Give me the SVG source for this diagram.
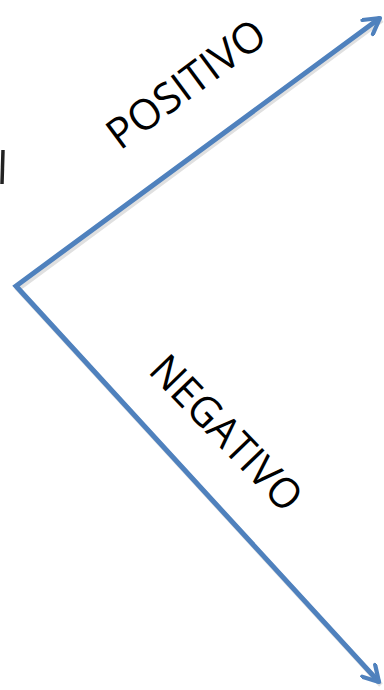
<svg xmlns="http://www.w3.org/2000/svg" width="384" height="690" viewBox="0 0 384 690">
<style>
.conn{fill:none;stroke:#4F81BD;stroke-width:5;stroke-linejoin:miter}
.shadow{fill:none;stroke:#000;stroke-opacity:0.12;stroke-width:5}
.lbl{font-family:"Open Sans","Liberation Sans",sans-serif;font-size:42px;fill:#000}
</style>
<defs>
<marker id="arr" viewBox="0 0 10 10" refX="8.5" refY="5" markerWidth="4.2" markerHeight="4.2" orient="auto-start-reverse" markerUnits="strokeWidth">
<path d="M1.2,0.8 L8.5,5 L1.2,9.2" fill="none" stroke="#4F81BD" stroke-width="2" stroke-linecap="round" stroke-linejoin="round"/>
</marker>
</defs>
<rect width="384" height="690" fill="#fff"/>
<g id="mark"><path d="M3,150 L2,184" stroke="#222" stroke-width="3.5" fill="none"/></g>
<g id="connectors">
<polyline class="shadow" points="382,20 18,289 381,685"/>
<polyline class="conn" points="380,18 16,286 379,682" marker-start="url(#arr)" marker-end="url(#arr)"/>
</g>
<g id="positivo"><text class="lbl" transform="translate(120,151) rotate(-36.5)" textLength="186" lengthAdjust="spacingAndGlyphs">POSITIVO</text></g>
<g id="negativo"><text class="lbl" transform="translate(147,372) rotate(46)" textLength="198" lengthAdjust="spacingAndGlyphs">NEGATIVO</text></g>
</svg>
